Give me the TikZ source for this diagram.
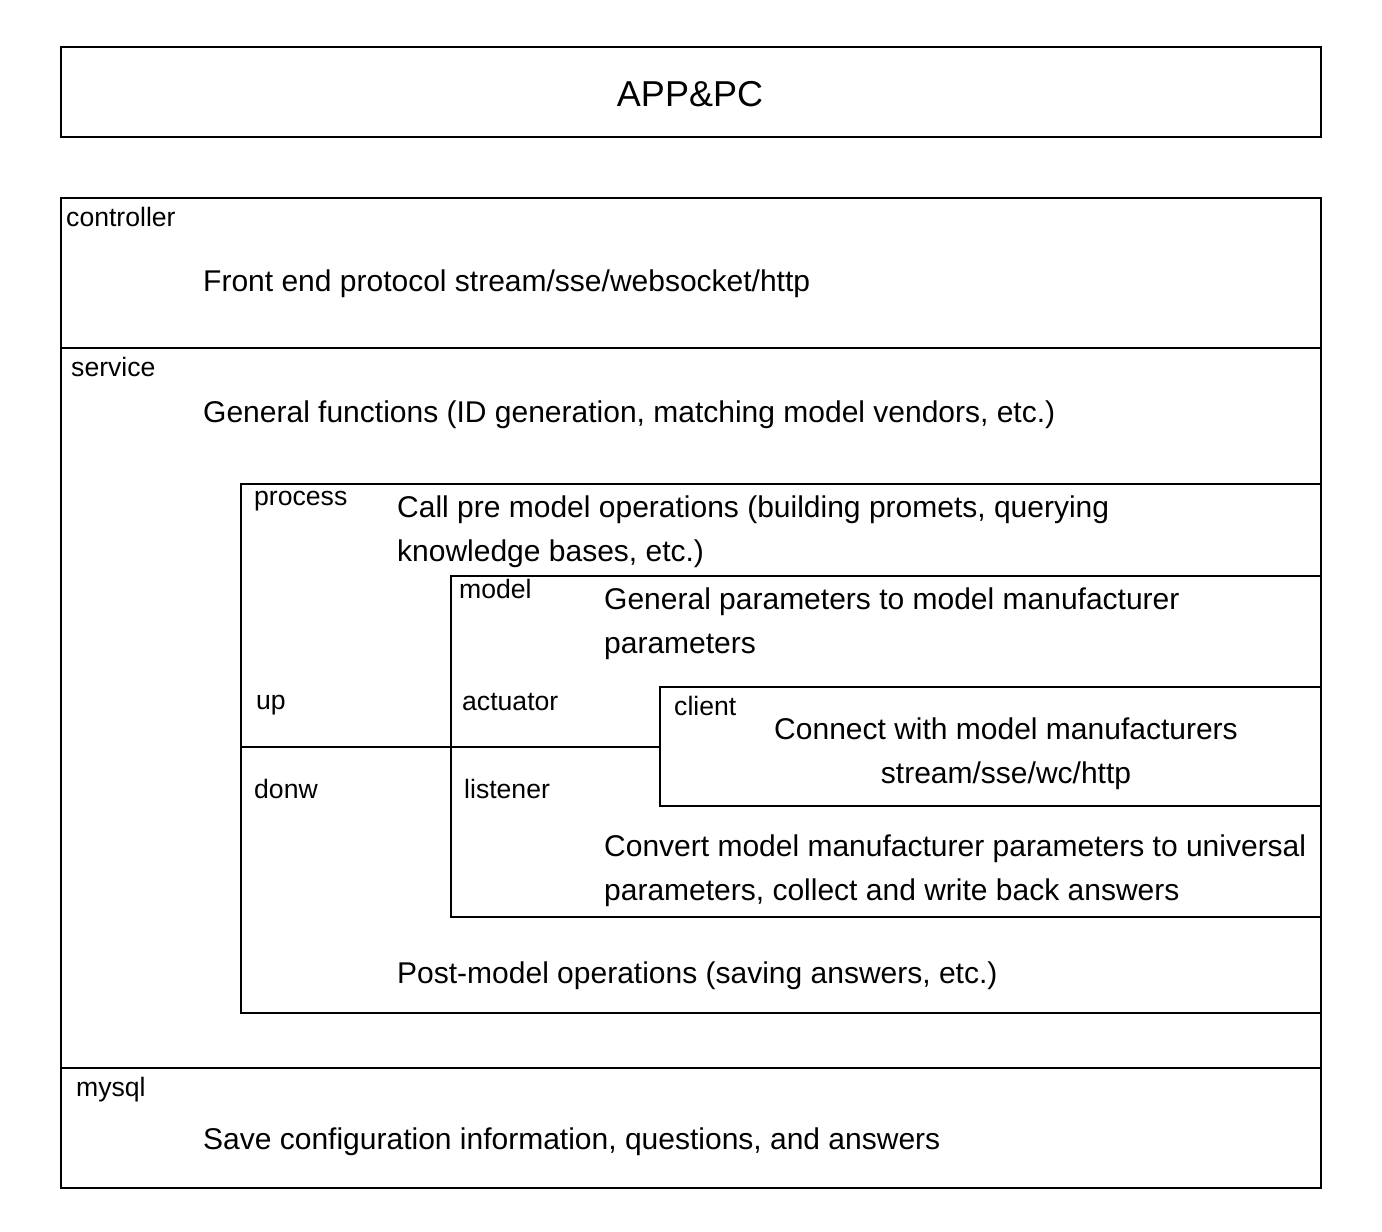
\documentclass[tikz,border=0pt]{standalone}
\usepackage{fontspec}
\setmainfont{Liberation Sans}
\tikzset{
  layer/.style={line width=2.8pt},
  lbl/.style={inner sep=0pt, anchor=base west, font=\fontsize{26.6}{32}\selectfont},
  txt/.style={inner sep=0pt, anchor=base west, align=left, font=\fontsize{30}{44}\selectfont},
}
\begin{document}
\begin{tikzpicture}[x=1pt,y=-1pt]
	\useasboundingbox (0,0) rectangle (1382,1232);
	% top box
	\draw[layer] (61,47) rectangle (1321,137);
	\node[txt, anchor=base, font=\fontsize{36}{40}\selectfont] (app) at (690,106.7) {APP\&PC};
	% outer box and layers
	\draw[layer] (61,198) rectangle (1321,1188);
	\draw[layer] (61,348) -- (1321,348);
	\draw[layer] (61,1068) -- (1321,1068);
	\draw[layer] (241,484) rectangle (1321,1013);
	\draw[layer] (451,576) rectangle (1321,917);
	\draw[layer] (660,687) rectangle (1321,806);
	\draw[layer] (241,747) -- (660,747);
	% labels
	\node[lbl] (controller) at (66,226.7) {controller};
	\node[lbl] (service) at (71,376) {service};
	\node[lbl] (process) at (254,505) {process};
	\node[lbl] (model) at (459,598.5) {model};
	\node[lbl] (up) at (256,709.3) {up};
	\node[lbl] (actuator) at (462,710) {actuator};
	\node[lbl] (client) at (674,715) {client};
	\node[lbl] (donw) at (254,798.3) {donw};
	\node[lbl] (listener) at (464,798.3) {listener};
	\node[lbl] (mysql) at (76,1096.7) {mysql};
	% texts (two-line nodes sit on the baseline of their last line)
	\node[txt] (front) at (203,291.7) {Front end protocol stream/sse/websocket/http};
	\node[txt] (general) at (203,422) {General functions (ID generation, matching model vendors, etc.)};
	\node[txt] (pre) at (397,561.5) {Call pre model operations (building promets, querying\\knowledge bases, etc.)};
	\node[txt] (param) at (604,653) {General parameters to model manufacturer\\parameters};
	\node[txt, anchor=base, align=center] (connect) at (1006,783.5) {Connect with model manufacturers\\stream/sse/wc/http};
	\node[txt] (convert) at (604,900.2) {Convert model manufacturer parameters to universal\\parameters, collect and write back answers};
	\node[txt] (post) at (397,983.3) {Post-model operations (saving answers, etc.)};
	\node[txt] (save) at (203,1149.5) {Save configuration information, questions, and answers};
\end{tikzpicture}
\end{document}
